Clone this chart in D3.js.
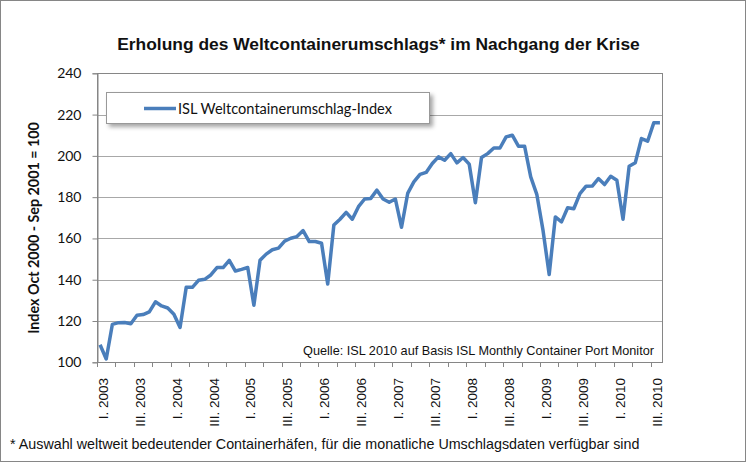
<!DOCTYPE html>
<html>
<head>
<meta charset="utf-8">
<script src="https://cdn.jsdelivr.net/npm/d3@7"></script>
<style>
  html, body { margin: 0; padding: 0; background: #fff; }
  svg { display: block; }
</style>
</head>
<body>
<svg id="chart" width="746" height="462"></svg>
<script>
// ---- data ----
const years = [2003, 2004, 2005, 2006, 2007, 2008, 2009, 2010];
const monthsPerYear = [12, 12, 12, 12, 12, 12, 12, 8];
const values = [
  108.5, 101.6, 118.4, 119.2, 119.3, 118.7, 122.8, 123.1, 124.4, 129.3, 127.3, 126.3,
  123.3, 116.9, 136.3, 136.3, 139.7, 140.2, 142.3, 145.9, 145.9, 149.4, 144.2, 145.0,
  145.9, 127.6, 149.4, 152.4, 154.5, 155.3, 158.7, 160.1, 160.9, 163.8, 158.5, 158.5,
  157.7, 137.9, 166.5, 169.3, 172.6, 169.3, 175.4, 179.1, 179.4, 183.4, 179.1, 177.5,
  179.1, 165.4, 181.8, 187.4, 191.0, 192.0, 196.3, 199.5, 197.9, 201.1, 196.6, 199.2,
  196.0, 177.3, 199.2, 201.1, 203.8, 203.8, 209.2, 210.0, 204.7, 204.7, 189.8, 181.2,
  163.9, 142.5, 170.4, 168.0, 174.9, 174.4, 181.7, 185.3, 185.4, 189.0, 186.1, 190.1,
  188.2, 169.3, 195.0, 196.7, 208.4, 207.1, 216.0, 216.0
];
const yTicks = [100, 120, 140, 160, 180, 200, 220, 240];
const xTickLabels = ["I. 2003", "III. 2003", "I. 2004", "III. 2004", "I. 2005", "III. 2005",
  "I. 2006", "III. 2006", "I. 2007", "III. 2007", "I. 2008", "III. 2008",
  "I. 2009", "III. 2009", "I. 2010", "III. 2010"];
const seriesName = "ISL Weltcontainerumschlag-Index";
const title = "Erholung des Weltcontainerumschlags* im Nachgang der Krise";
const yTitle = "Index Oct 2000 - Sep 2001 = 100";
const source = "Quelle: ISL 2010 auf Basis ISL Monthly Container Port Monitor";
const footnote = "* Auswahl weltweit bedeutender Containerhäfen, für die monatliche Umschlagsdaten verfügbar sind";

// categories: one per month
const categories = [];
years.forEach((y, yi) => { for (let m = 1; m <= monthsPerYear[yi]; m++) categories.push(y + "-" + m); });
const data = categories.map((c, i) => ({ c, v: values[i] }));

// ---- layout ----
const svg = d3.select("#chart");
const L = 97, R = 663, T = 73.3, B = 362.3;
const x = d3.scaleBand().domain(categories).range([L, R]).padding(0);
const y = d3.scaleLinear().domain([100, 240]).range([B, T]);

const gray = "#868686";
const uiFont = "Lato, 'Open Sans', sans-serif";
const arial = "'Liberation Sans', Arial, sans-serif";

// outer frame
svg.append("rect").attr("x", 0.5).attr("y", 0.5).attr("width", 745).attr("height", 461)
  .attr("fill", "#fff").attr("stroke", gray).attr("stroke-width", 1);

// title
svg.append("text").attr("x", 378.5).attr("y", 50).attr("text-anchor", "middle")
  .attr("font-family", arial).attr("font-weight", "bold").attr("font-size", 17.4)
  .attr("fill", "#111").text(title);

// gridlines
svg.append("g").selectAll("line").data(yTicks.filter(t => t > 100)).join("line")
  .attr("x1", L).attr("x2", R)
  .attr("y1", d => Math.round(y(d)) + 0.5).attr("y2", d => Math.round(y(d)) + 0.5)
  .attr("stroke", "#a8a8a8").attr("stroke-width", 1);

// plot border
svg.append("rect").attr("x", L + 0.5).attr("y", Math.round(T) + 0.5)
  .attr("width", R - L - 1).attr("height", Math.round(B) - Math.round(T))
  .attr("fill", "none").attr("stroke", gray);

// y axis
const yAxis = d3.axisLeft(y).tickValues(yTicks).tickSize(5).tickPadding(11);
const gy = svg.append("g").attr("transform", `translate(${L + 0.5},0)`).call(yAxis);
gy.select(".domain").attr("stroke", gray);
gy.selectAll(".tick line").attr("stroke", gray);
gy.selectAll(".tick text").attr("font-family", uiFont).attr("font-size", 14).attr("fill", "#111");

// x axis ticks (quarterly) and labels (half-yearly)
const bw = x.bandwidth();
const tickIdx = categories.map((c, i) => i).filter(i => i % 3 === 0);
svg.append("g").selectAll("line").data(tickIdx).join("line")
  .attr("x1", i => Math.round(x(categories[i])) + 0.5).attr("x2", i => Math.round(x(categories[i])) + 0.5)
  .attr("y1", Math.round(B)).attr("y2", Math.round(B) + 5)
  .attr("stroke", gray);
svg.append("line").attr("x1", L).attr("x2", R).attr("y1", Math.round(B) + 0.5).attr("y2", Math.round(B) + 0.5)
  .attr("stroke", gray);

const labelIdx = categories.map((c, i) => i).filter(i => i % 6 === 0);
svg.append("g").selectAll("text").data(labelIdx).join("text")
  .attr("transform", (i, k) => `translate(${x(categories[i]) + bw / 2 + 3},378) rotate(-90)`)
  .attr("text-anchor", "end").attr("dy", "0.35em")
  .attr("font-family", arial).attr("font-size", 13.5).attr("fill", "#111")
  .text((i, k) => xTickLabels[k]);

// y title
svg.append("text").attr("transform", "translate(39,228) rotate(-90)")
  .attr("text-anchor", "middle")
  .attr("font-family", uiFont).attr("font-weight", "bold").attr("font-size", 14.3)
  .attr("fill", "#111").text(yTitle);

// line
const line = d3.line().x(d => x(d.c) + bw / 2).y(d => y(d.v));
svg.append("path").datum(data).attr("d", line)
  .attr("fill", "none").attr("stroke", "#4A7EBB").attr("stroke-width", 3.5)
  .attr("stroke-linejoin", "round");

// source text
svg.append("text").attr("x", 654).attr("y", 355).attr("text-anchor", "end")
  .attr("font-family", arial).attr("font-size", 12.7).attr("fill", "#111").text(source);

// legend
const defs = svg.append("defs");
const f = defs.append("filter").attr("id", "sh").attr("x", "-10%").attr("y", "-30%").attr("width", "130%").attr("height", "180%");
f.append("feDropShadow").attr("dx", 3).attr("dy", 3).attr("stdDeviation", 2).attr("flood-color", "#000").attr("flood-opacity", 0.35);
const lg = svg.append("g");
lg.append("rect").attr("x", 106.5).attr("y", 92.5).attr("width", 323).attr("height", 31)
  .attr("fill", "#fff").attr("stroke", "#999").attr("filter", "url(#sh)");
lg.append("line").attr("x1", 144).attr("x2", 176).attr("y1", 108.5).attr("y2", 108.5)
  .attr("stroke", "#4A7EBB").attr("stroke-width", 3.5);
lg.append("text").attr("x", 178).attr("y", 113.5)
  .attr("font-family", uiFont).attr("font-size", 14.6).attr("fill", "#111").text(seriesName);

// footnote
svg.append("text").attr("x", 10).attr("y", 449)
  .attr("font-family", arial).attr("font-size", 14.3).attr("fill", "#111").text(footnote);
</script>
</body>
</html>
